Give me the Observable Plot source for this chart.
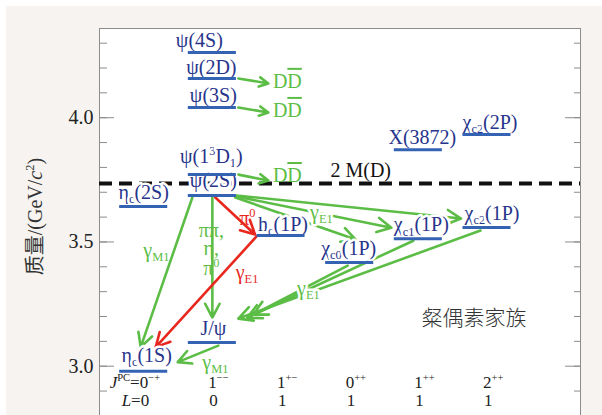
<!DOCTYPE html>
<html><head><meta charset="utf-8">
<script src="https://cdn.jsdelivr.net/npm/d3@7"></script>
<script src="https://cdn.jsdelivr.net/npm/@observablehq/plot@0.6"></script>
<style>
html,body{margin:0;padding:0;background:#fff;overflow:hidden;width:602px;height:415px}
#bg{position:absolute;left:6px;top:6px;right:0;bottom:0;background:#f6f3f0}
#chart{position:absolute;left:0;top:0}
</style></head><body><div id="bg"></div><div id="chart"></div>
<script>
// ---------- data ----------
const stateNames  = ["ηc(1S)","ηc(2S)","J/ψ","ψ(2S)","ψ(1³D₁)","ψ(3S)","ψ(2D)","ψ(4S)","hc(1P)","χc0(1P)","χc1(1P)","χc2(1P)","X(3872)","χc2(2P)"];
const stateLabels = ["η_{c}(1S)","η_{c}(2S)","J/ψ","ψ(2S)","ψ(1^{3}D_{1})","ψ(3S)","ψ(2D)","ψ(4S)","h_{c}(1P)","χ_{c0}(1P)","χ_{c1}(1P)","χ_{c2}(1P)","X(3872)","χ_{c2}(2P)"];
const stateColumn = [0,0,1,1,1,1,1,1,2,3,4,5,4,5];
const stateMass   = [2.980,3.643,3.095,3.687,3.771,4.041,4.158,4.262,3.526,3.417,3.513,3.558,3.871,3.932];

const jpcLabels = ["0^{−+}","1^{−−}","1^{+−}","0^{++}","1^{++}","2^{++}"];
const lLabels   = ["0","0","1","1","1","1"];
const thresholdMass = 3.735;          // 2 M(D)
const thresholdLabel = "2 M(D)";
const yTicksMajor = [3.0,3.5,4.0];
const yTicksMinor = [2.9,3.0,3.1,3.2,3.3,3.4,3.5,3.6,3.7,3.8,3.9,4.0,4.1,4.2,4.3];
const yLabel = "质量/(GeV/*{c}^{2})";
const familyLabel = "粲偶素家族";

const transFrom  = ["ψ(2D)","ψ(3S)","ψ(1³D₁)","ψ(2S)","ψ(2S)","J/ψ","ψ(2S)","hc(1P)","ψ(2S)","ψ(2S)","ψ(2S)","χc0(1P)","χc1(1P)","χc2(1P)"];
const transTo    = ["DD̄","DD̄","DD̄","ηc(1S)","J/ψ","ηc(1S)","hc(1P)","ηc(1S)","χc0(1P)","χc1(1P)","χc2(1P)","J/ψ","J/ψ","J/ψ"];
const transColor = ["g","g","g","g","g","g","r","r","g","g","g","g","g","g"];

const annoText  = ["D~{D}","D~{D}","D~{D}","γ_{M1}","ππ,","η,","π^{0}","π^{0}","γ_{E1}","γ_{E1}","γ_{E1}","γ_{M1}"];
const annoRef   = ["ψ(2D)","ψ(3S)","ψ(1³D₁)","ψ(2S)","ψ(2S)","ψ(2S)","ψ(2S)","ψ(2S)","hc(1P)","ψ(2S)","J/ψ","J/ψ"];
const annoColor = ["g","g","g","g","g","g","g","r","r","g","g","g"];

// ---------- layout / style ----------
const W = 602, H = 415, mL = 99, mR = 22, mT = 28, mB = 0;
const xDomain = [-0.6437, 6.3617], yDomain = [2.8016, 4.359];
const kx = (W - mL - mR) / (xDomain[1] - xDomain[0]);
const ky = (H - mT - mB) / (yDomain[1] - yDomain[0]);
const halfWidth = 0.35;
const colors = {g: "#5cbd46", r: "#e8281e"};
const navy = "#27348b", levelBlue = "#3563b3";
const serif = "'Liberation Serif','DejaVu Serif','Noto Sans CJK SC',serif";
// pixel offsets [dx1,dy1,dx2,dy2] of arrow ends relative to the levels
const arrowOffsets = [[26,0,56,5],[26,0,56,5],[26,0,56,6],[-20,2,-3,-24],[0,2,0,-25],[6,3,34,-9],[3,2,-26,-1],[-24.5,1,12,-24],[23,2,6,-23],[24,1,-27,-11],[24,0,-26,-9],[-2,3,41,-28],[-5,2,35,-25],[-6.5,3,26,-24]];
const labelOffsets = [[3,-16],[0,-14],[1,-14],[1,-15],[-1,-18],[1,-12],[-1,-11],[-13,-12],[2,-11],[-1,-14],[3,-14],[5,-14],[4,-12],[3,-12]];
const annoOffsets = [[75,3,"middle"],[75,3,"middle"],[75,1,"middle"],[-56,55,"middle"],[-1,35,"end"],[-1,53,"end"],[-1,73,"end"],[35,23,"middle"],[-34,37,"middle"],[109,17,"middle"],[96,-54,"middle"],[3,20,"middle"]];

// ---------- build tables ----------
const pt = (ref, dx, dy) => ({x: ref.col + dx/kx, y: ref.mass - dy/ky});
const levels = stateNames.map((n,i) => {
  const d = {name:n, label:stateLabels[i], col:stateColumn[i], mass:stateMass[i]};
  const p = pt(d, labelOffsets[i][0], labelOffsets[i][1]);
  d.lx = p.x; d.ly = p.y;
  return d;
});
const lv = n => levels[stateNames.indexOf(n)];
const arrows = transFrom.map((f,i) => {
  const a = lv(f), o = arrowOffsets[i];
  const b = stateNames.includes(transTo[i]) ? lv(transTo[i]) : a;
  const p1 = pt(a,o[0],o[1]), p2 = pt(b,o[2],o[3]);
  return {x1:p1.x, y1:p1.y, x2:p2.x, y2:p2.y, color:colors[transColor[i]]};
});
const annos = annoText.map((t,i) => {
  const r = lv(annoRef[i]), o = annoOffsets[i];
  const p = pt(r,o[0],o[1]);
  return {text:t, x:p.x, y:p.y, anchor:o[2], color:colors[annoColor[i]]};
});
const haloAnnos = annos.filter(d => d.text === "γ_{E1}" && d.color === colors.g);
const plainAnnos = annos.filter(d => !haloAnnos.includes(d));
const cols = jpcLabels.map((t,i) => ({col:i, jpc:t, l:lLabels[i]}));

const plot = Plot.plot({
  width: W, height: H, marginLeft: mL, marginRight: mR, marginTop: mT, marginBottom: mB,
  x: {domain: xDomain, axis: null},
  y: {domain: yDomain, axis: null},
  style: {background: "transparent", fontFamily: serif, overflow: "hidden"},
  marks: [
    Plot.frame({fill: "white", stroke: "#8c8c8c", insetBottom: -4}),
    Plot.tickY(yTicksMinor, {y: d => d, insetRight: (W-mL-mR) - 8, stroke: "#8c8c8c"}),
    Plot.tickY(yTicksMajor, {y: d => d, insetRight: (W-mL-mR) - 15, stroke: "#8c8c8c"}),
    Plot.tickY(yTicksMinor, {y: d => d, insetLeft: (W-mL-mR) - 6, stroke: "#8c8c8c"}),
    Plot.tickY(yTicksMajor, {y: d => d, insetLeft: (W-mL-mR) - 15, stroke: "#8c8c8c"}),
    Plot.text(yTicksMajor, {y: d => d, frameAnchor: "left", dx: -6, textAnchor: "end", text: d => d.toFixed(1), fontSize: 20, fill: "#222"}),
    Plot.text([yLabel], {y: [3.602], frameAnchor: "left", dx: -64, rotate: -90, textAnchor: "middle", text: d => d, fontSize: 20, fill: "#333"}),
    Plot.ruleY([thresholdMass], {stroke: "#111", strokeWidth: 4, strokeDasharray: "13,7"}),
    Plot.text([thresholdLabel], {x: [2.72], y: [thresholdMass], dy: -13, textAnchor: "start", text: d => d, fontSize: 20, fill: "#111"}),
    Plot.arrow(arrows, {x1: "x1", y1: "y1", x2: "x2", y2: "y2", stroke: "color", strokeWidth: 2.6, headLength: 9, headAngle: 55}),
    Plot.text(levels, {x: "lx", y: "ly", text: "label", textAnchor: "middle", fontSize: 20, fill: navy, stroke: "white", strokeWidth: 5}),
    Plot.text(haloAnnos, {x: "x", y: "y", text: "text", textAnchor: "middle", fontSize: 20, fill: "color", stroke: "white", strokeWidth: 5}),
    Plot.text(plainAnnos, {x: "x", y: "y", text: "text", textAnchor: "anchor", fontSize: 20, fill: "color"}),
    Plot.ruleY(levels, {y: "mass", x1: d => d.col - halfWidth, x2: d => d.col + halfWidth, stroke: levelBlue, strokeWidth: 3}),
    Plot.text(cols, {x: "col", frameAnchor: "bottom", dy: -28, dx: -4, textAnchor: "start", text: "jpc", fontSize: 17, fill: "#222"}),
    Plot.text(cols, {x: "col", frameAnchor: "bottom", dy: -10, dx: -3, textAnchor: "start", text: "l", fontSize: 17, fill: "#222"}),
    Plot.text(["*{J}^{PC}="], {x: [0], frameAnchor: "bottom", dy: -28, dx: -4, textAnchor: "end", text: d => d, fontSize: 17, fill: "#222"}),
    Plot.text(["*{L}="], {x: [0], frameAnchor: "bottom", dy: -10, dx: -3, textAnchor: "end", text: d => d, fontSize: 17, fill: "#222"}),
    Plot.text([familyLabel], {x: [4.81], y: [3.192], text: d => d, fontSize: 21, fill: "#333", fontFamily: "'Noto Sans CJK SC'", fontWeight: 300})
  ]
});
document.getElementById("chart").appendChild(plot);

// rich text: _{sub} ^{sup} ~{overline} *{italic}
const NS = "http://www.w3.org/2000/svg";
const re = /([_^~*])\{([^}]*)\}/g;
for (const t of plot.querySelectorAll("text")) {
  const s = t.textContent;
  if (!/[_^~*]\{/.test(s)) continue;
  const fs = parseFloat(getComputedStyle(t).fontSize) || 20;
  const parts = []; let last = 0, m; re.lastIndex = 0;
  while ((m = re.exec(s))) {
    if (m.index > last) parts.push(["", s.slice(last, m.index)]);
    parts.push([m[1], m[2]]); last = re.lastIndex;
  }
  if (last < s.length) parts.push(["", s.slice(last)]);
  t.textContent = "";
  let shift = 0;
  for (const [k, str] of parts) {
    const ts = document.createElementNS(NS, "tspan");
    let target = 0;
    if (k === "_") { target = 0.22*fs; ts.setAttribute("font-size", 0.62*fs); }
    else if (k === "^") { target = -0.4*fs; ts.setAttribute("font-size", 0.62*fs); }
    else if (k === "~") ts.setAttribute("style", "text-decoration: overline");
    else if (k === "*") ts.setAttribute("font-style", "italic");
    const d = target - shift;
    if (d) ts.setAttribute("dy", d);
    shift = target;
    ts.textContent = str;
    t.appendChild(ts);
  }
}
</script></body></html>
